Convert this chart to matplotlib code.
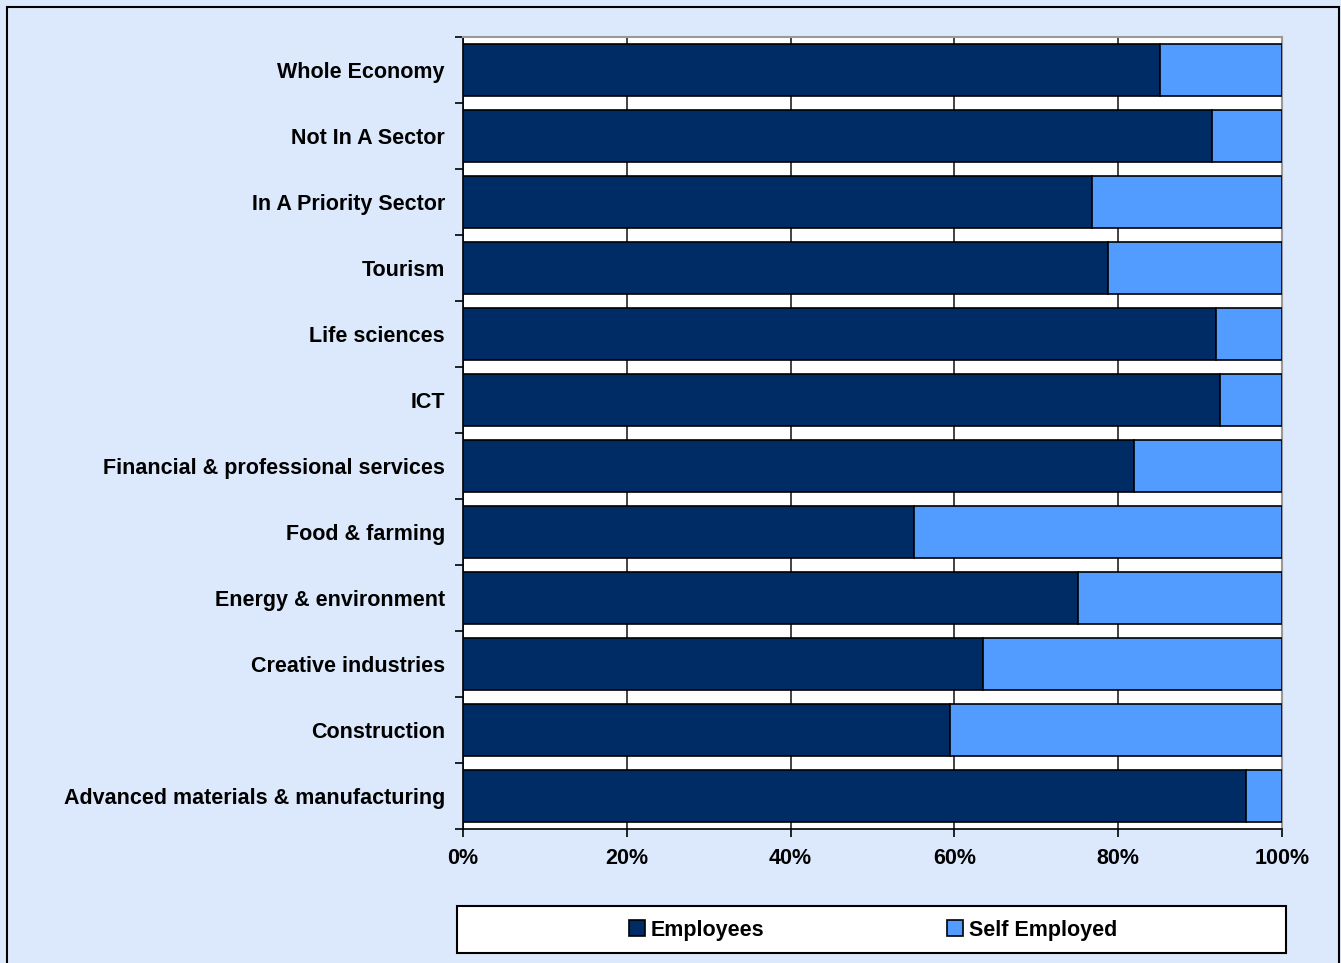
import numpy as np
import matplotlib.pyplot as plt
from matplotlib.patches import Rectangle

plt.rcParams['font.family'] = ['Liberation Sans', 'DejaVu Sans']
plt.rcParams['font.weight'] = 'bold'

sectors = ['Whole Economy', 'Not In A Sector', 'In A Priority Sector', 'Tourism',
           'Life sciences', 'ICT', 'Financial & professional services',
           'Food & farming', 'Energy & environment', 'Creative industries',
           'Construction', 'Advanced materials & manufacturing']
employees = [85.1, 91.5, 76.8, 78.8, 91.9, 92.4, 81.9, 55.1, 75.1, 63.5, 59.5, 95.6]
self_employed = [100 - v for v in employees]

col_emp = '#002C66'
col_self = '#529CFF'
bg = '#DCE9FC'

fig = plt.figure(figsize=(13.41, 9.63), dpi=100)
fig.patch.set_facecolor(bg)
# outer chart frame
fig.patches.append(Rectangle((7 / 1341, -0.01), 1332 / 1341, 1 - 7 / 963 + 0.01,
                             transform=fig.transFigure, fill=False,
                             edgecolor='black', linewidth=1.5))
# legend box
fig.patches.append(Rectangle((457 / 1341, 1 - 953 / 963), 829 / 1341, 47 / 963,
                             transform=fig.transFigure, facecolor='white',
                             edgecolor='black', linewidth=1.5))

ax = fig.add_axes([463 / 1341, 1 - 829 / 963, 819 / 1341, 792 / 963])
ax.set_facecolor('white')

y = np.arange(len(sectors))[::-1]
ax.barh(y, employees, height=0.79, color=col_emp, edgecolor='black', linewidth=1.2,
        label='Employees', zorder=3)
ax.barh(y, self_employed, left=employees, height=0.79, color=col_self, edgecolor='black',
        linewidth=1.2, label='Self Employed', zorder=3)

ax.set_xlim(0, 100)
ax.set_ylim(-0.5, len(sectors) - 0.5)
ax.set_xticks(np.arange(0, 101, 20))
ax.set_xticklabels([f'{v}%' for v in range(0, 101, 20)], fontsize=15.5, fontweight='bold')
ax.set_yticks(y)
ax.set_yticklabels(sectors, fontsize=15.5, fontweight='bold')
ax.set_yticks(np.arange(-0.5, len(sectors), 1), minor=True)
ax.tick_params(axis='y', which='major', length=0, pad=13)
ax.tick_params(axis='y', which='minor', length=6, width=1.2, direction='out')
ax.tick_params(axis='x', length=6, width=1.2, direction='out', pad=8)
ax.xaxis.grid(True, color='#222222', linewidth=1.2, zorder=0)
ax.set_axisbelow(True)

for s in ['top', 'right']:
    ax.spines[s].set_color('#999999')
    ax.spines[s].set_linewidth(1.5)
for s in ['left', 'bottom']:
    ax.spines[s].set_color('black')
    ax.spines[s].set_linewidth(1.2)

leg = fig.legend(loc='center', bbox_to_anchor=(873 / 1341, 1 - 930 / 963),
                 ncol=2, frameon=False, handlelength=0.75, handleheight=0.75,
                 handletextpad=0.25, borderaxespad=0, columnspacing=8.5,
                 prop={'weight': 'bold', 'size': 15.5})

fig.savefig('out.png', dpi=100, facecolor=bg)
